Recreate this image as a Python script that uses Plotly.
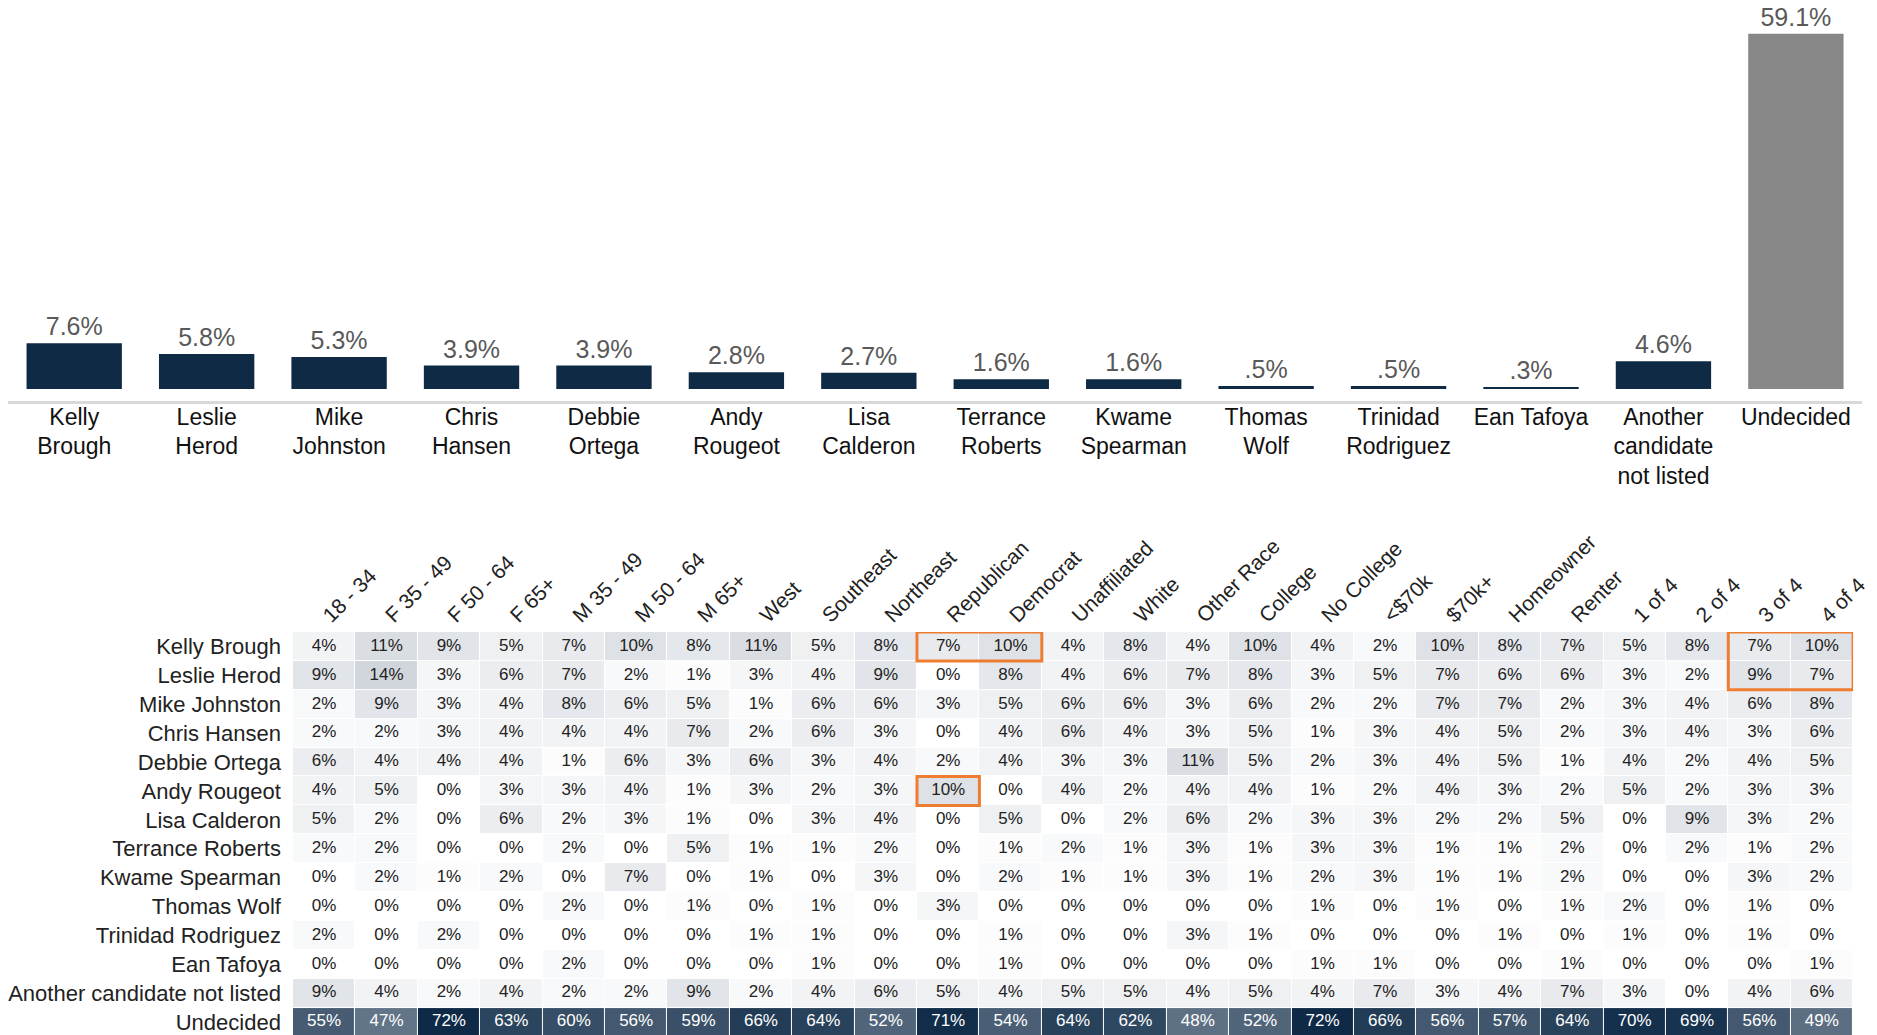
import plotly.graph_objects as go

# ---------------- data ----------------
bar_labels = ["Kelly<br>Brough", "Leslie<br>Herod", "Mike<br>Johnston", "Chris<br>Hansen",
              "Debbie<br>Ortega", "Andy<br>Rougeot", "Lisa<br>Calderon", "Terrance<br>Roberts",
              "Kwame<br>Spearman", "Thomas<br>Wolf", "Trinidad<br>Rodriguez", "Ean Tafoya",
              "Another<br>candidate<br>not listed", "Undecided"]
bar_values = [7.6, 5.8, 5.3, 3.9, 3.9, 2.8, 2.7, 1.6, 1.6, 0.5, 0.5, 0.3, 4.6, 59.1]

columns = ["18 - 34", "F 35 - 49", "F 50 - 64", "F 65+", "M 35 - 49", "M 50 - 64", "M 65+",
           "West", "Southeast", "Northeast", "Republican", "Democrat", "Unaffiliated", "White",
           "Other Race", "College", "No College", "<$70k", "$70k+", "Homeowner", "Renter",
           "1 of 4", "2 of 4", "3 of 4", "4 of 4"]

rows = ["Kelly Brough", "Leslie Herod", "Mike Johnston", "Chris Hansen", "Debbie Ortega",
        "Andy Rougeot", "Lisa Calderon", "Terrance Roberts", "Kwame Spearman", "Thomas Wolf",
        "Trinidad Rodriguez", "Ean Tafoya", "Another candidate not listed"]

kelly_brough = [4, 11, 9, 5, 7, 10, 8, 11, 5, 8, 7, 10, 4, 8, 4, 10, 4, 2, 10, 8, 7, 5, 8, 7, 10]
leslie_herod = [9, 14, 3, 6, 7, 2, 1, 3, 4, 9, 0, 8, 4, 6, 7, 8, 3, 5, 7, 6, 6, 3, 2, 9, 7]
mike_johnston = [2, 9, 3, 4, 8, 6, 5, 1, 6, 6, 3, 5, 6, 6, 3, 6, 2, 2, 7, 7, 2, 3, 4, 6, 8]
chris_hansen = [2, 2, 3, 4, 4, 4, 7, 2, 6, 3, 0, 4, 6, 4, 3, 5, 1, 3, 4, 5, 2, 3, 4, 3, 6]
debbie_ortega = [6, 4, 4, 4, 1, 6, 3, 6, 3, 4, 2, 4, 3, 3, 11, 5, 2, 3, 4, 5, 1, 4, 2, 4, 5]
andy_rougeot = [4, 5, 0, 3, 3, 4, 1, 3, 2, 3, 10, 0, 4, 2, 4, 4, 1, 2, 4, 3, 2, 5, 2, 3, 3]
lisa_calderon = [5, 2, 0, 6, 2, 3, 1, 0, 3, 4, 0, 5, 0, 2, 6, 2, 3, 3, 2, 2, 5, 0, 9, 3, 2]
terrance_roberts = [2, 2, 0, 0, 2, 0, 5, 1, 1, 2, 0, 1, 2, 1, 3, 1, 3, 3, 1, 1, 2, 0, 2, 1, 2]
kwame_spearman = [0, 2, 1, 2, 0, 7, 0, 1, 0, 3, 0, 2, 1, 1, 3, 1, 2, 3, 1, 1, 2, 0, 0, 3, 2]
thomas_wolf = [0, 0, 0, 0, 2, 0, 1, 0, 1, 0, 3, 0, 0, 0, 0, 0, 1, 0, 1, 0, 1, 2, 0, 1, 0]
trinidad_rodriguez = [2, 0, 2, 0, 0, 0, 0, 1, 1, 0, 0, 1, 0, 0, 3, 1, 0, 0, 0, 1, 0, 1, 0, 1, 0]
ean_tafoya = [0, 0, 0, 0, 2, 0, 0, 0, 1, 0, 0, 1, 0, 0, 0, 0, 1, 1, 0, 0, 1, 0, 0, 0, 1]
another_candidate = [9, 4, 2, 4, 2, 2, 9, 2, 4, 6, 5, 4, 5, 5, 4, 5, 4, 7, 3, 4, 7, 3, 0, 4, 6]
undecided = [55, 47, 72, 63, 60, 56, 59, 66, 64, 52, 71, 54, 64, 62, 48, 52, 72, 66, 56, 57, 64, 70, 69, 56, 49]

candidate_matrix = [kelly_brough, leslie_herod, mike_johnston, chris_hansen, debbie_ortega,
                    andy_rougeot, lisa_calderon, terrance_roberts, kwame_spearman, thomas_wolf,
                    trinidad_rodriguez, ean_tafoya, another_candidate]

# highlighted groups: (first row, last row, first column, last column)
highlights = [("Kelly Brough", "Kelly Brough", "Republican", "Democrat"),
              ("Andy Rougeot", "Andy Rougeot", "Republican", "Republican"),
              ("Kelly Brough", "Leslie Herod", "3 of 4", "4 of 4")]

# ---------------- styling ----------------
NAVY = "#0f2a45"
GRAY_BAR = "#878787"
ORANGE = "#ee7d31"
FONT = "Arial, Liberation Sans, sans-serif"
colorscale = [[0, "#ffffff"], [1, "#0e2a47"]]

all_rows = rows + ["Undecided"]
all_matrix = candidate_matrix + [undecided]

fig = go.Figure()

bar_text = [(f"{v:.1f}%").lstrip("0") for v in bar_values]
bar_colors = [GRAY_BAR if lab == "Undecided" else NAVY for lab in bar_labels]

fig.add_trace(go.Bar(
    x=bar_labels, y=bar_values, text=bar_text, textposition="outside",
    textfont=dict(size=25, color="#595959", family=FONT),
    marker=dict(color=bar_colors, line=dict(width=0)),
    cliponaxis=False, xaxis="x", yaxis="y", showlegend=False, hoverinfo="skip",
))

fig.add_trace(go.Heatmap(
    z=all_matrix, x=columns, y=all_rows, zmin=0, zmax=72, colorscale=colorscale,
    showscale=False, xgap=1, ygap=1,
    xaxis="x2", yaxis="y2", hoverinfo="skip",
))

# cell labels (dark text for candidates, white text for the Undecided row)
cx, cy, ct = [], [], []
for rname, rvals in zip(rows, candidate_matrix):
    for cname, v in zip(columns, rvals):
        cx.append(cname); cy.append(rname); ct.append(f"{v}%")
fig.add_trace(go.Scatter(
    x=cx, y=cy, text=ct, mode="text", textposition="middle center",
    textfont=dict(size=17, color="#222222", family=FONT),
    xaxis="x2", yaxis="y2", showlegend=False, hoverinfo="skip",
))
fig.add_trace(go.Scatter(
    x=columns, y=["Undecided"] * len(columns), text=[f"{v}%" for v in undecided],
    mode="text", textposition="middle center",
    textfont=dict(size=17, color="#ffffff", family=FONT),
    xaxis="x2", yaxis="y2", showlegend=False, hoverinfo="skip",
))

shapes = []
for r0, r1, c0, c1 in highlights:
    shapes.append(dict(
        type="rect", xref="x2", yref="y2",
        x0=columns.index(c0) - 0.5, x1=columns.index(c1) + 0.5,
        y0=all_rows.index(r0) - 0.5, y1=all_rows.index(r1) + 0.5,
        line=dict(color=ORANGE, width=3), fillcolor="rgba(0,0,0,0)", layer="above",
    ))

fig.update_layout(
    width=1877, height=1035,
    margin=dict(l=0, r=0, t=0, b=0, autoexpand=False),
    paper_bgcolor="white", plot_bgcolor="white",
    font=dict(family=FONT, color="#222222"),
    bargap=0.28,
    shapes=shapes,
    xaxis=dict(domain=[0.0, 0.9878], anchor="y", type="category", automargin=False,
               showline=True, linecolor="#d9d9d9", linewidth=3,
               showgrid=False, zeroline=False, ticks="", ticklabelstandoff=-7,
               tickfont=dict(size=23, color="#111111", family=FONT)),
    yaxis=dict(domain=[0.6203, 1.0], anchor="x", range=[-2, 63.4], automargin=False,
               visible=False, showgrid=False, zeroline=False),
    xaxis2=dict(domain=[0.1518, 0.9830], anchor="y2", side="top", type="category",
                range=[-0.5, len(columns) - 0.5],
                automargin=False, tickangle=-45, showgrid=False, zeroline=False, ticks="",
                tickfont=dict(size=21, color="#222222", family=FONT)),
    yaxis2=dict(domain=[0.0062, 0.3971], anchor="x2", type="category", automargin=False,
                categoryorder="array", categoryarray=all_rows,
                range=[len(all_rows) - 0.5, -0.5],
                showgrid=False, zeroline=False, ticks="", ticklabelstandoff=11,
                tickfont=dict(size=22, color="#222222", family=FONT)),
)

fig.write_html("out.html")
